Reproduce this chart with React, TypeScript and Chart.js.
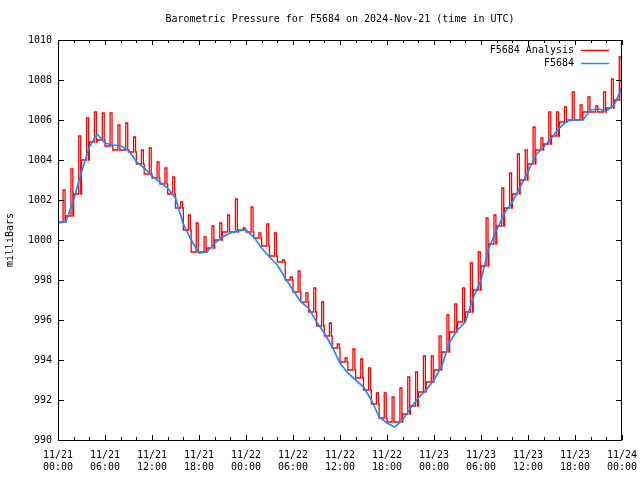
import { useEffect, useRef } from 'react';
import { Chart, registerables } from 'chart.js';
Chart.register(...registerables);

const TITLE = 'Barometric Pressure for F5684 on 2024-Nov-21 (time in UTC)';
const Y_TITLE = 'milliBars';
const SERIES_NAMES = ['F5684 Analysis', 'F5684'];

// hourly observations (hour 0 = 11/21 00:00 UTC)
const stationHours = [
  0, 1, 2, 3, 4, 5, 6, 7, 8, 9, 10, 11, 12, 13, 14, 15, 16, 17, 18, 19, 20, 21, 22, 23,
  24, 25, 26, 27, 28, 29, 30, 31, 32, 33, 34, 35, 36, 37, 38, 39, 40, 41, 42, 43, 44, 45, 46, 47,
  48, 49, 50, 51, 52, 53, 54, 55, 56, 57, 58, 59, 60, 61, 62, 63, 64, 65, 66, 67, 68, 69, 70, 71, 72,
];
const stationPressure = [
  1000.85, 1000.9, 1002.0, 1003.4, 1004.65, 1005.3, 1004.85, 1004.75, 1004.7, 1004.5, 1003.9, 1003.6,
  1003.2, 1002.9, 1002.6, 1002.1, 1000.8, 1000.0, 999.35, 999.4, 999.85, 1000.15, 1000.35, 1000.45,
  1000.5, 1000.15, 999.6, 999.15, 998.75, 998.1, 997.5, 996.9, 996.6, 995.9, 995.35, 994.65,
  993.85, 993.35, 993.0, 992.65, 992.0, 991.15, 990.85, 990.65, 991.0, 991.6, 992.1, 992.5,
  993.0, 993.7, 994.9, 995.5, 995.9, 997.1, 998.0, 999.6, 1000.5, 1001.35, 1001.9, 1002.65,
  1003.4, 1004.25, 1004.65, 1005.1, 1005.6, 1005.95, 1006.0, 1006.0, 1006.5, 1006.55, 1006.45, 1006.75,
  1007.65,
];

// analysis: level at the start of each hour, and the short peak late in the hour
const analysisBase = [
  1000.9, 1001.2, 1002.3, 1004.0, 1004.9, 1005.0, 1004.7, 1004.5, 1004.5, 1004.4, 1003.8, 1003.3,
  1003.1, 1002.8, 1002.3, 1001.6, 1000.5, 999.4, 999.4, 999.6, 1000.0, 1000.4, 1000.4, 1000.5,
  1000.4, 1000.1, 999.7, 999.2, 998.9, 998.0, 997.4, 996.9, 996.4, 995.7, 995.2, 994.6,
  993.9, 993.5, 993.1, 992.5, 991.8, 991.1, 990.9, 990.9, 991.3, 991.7, 992.4, 992.9,
  993.5, 994.4, 995.4, 995.9, 996.4, 997.5, 998.7, 999.8, 1000.7, 1001.6, 1002.3, 1003.0,
  1003.8, 1004.5, 1004.8, 1005.2, 1005.9, 1006.0, 1006.0, 1006.4, 1006.4, 1006.4, 1006.6, 1007.0,
];
const analysisPeak = [
  1002.5, 1003.55, 1005.2, 1006.1, 1006.4, 1006.35, 1006.35, 1005.75, 1005.85, 1005.15, 1004.5, 1004.6,
  1003.9, 1003.6, 1003.15, 1001.9, 1001.25, 1000.85, 1000.15, 1000.7, 1000.85, 1001.25, 1002.05, 1000.6,
  1001.65, 1000.35, 1000.8, 1000.35, 999.0, 998.15, 998.45, 997.35, 997.6, 996.9, 995.85, 994.8,
  994.1, 994.55, 994.05, 993.6, 992.35, 992.35, 992.15, 992.6, 993.15, 993.4, 994.2, 994.2,
  995.2, 996.25, 996.8, 997.6, 998.85, 999.4, 1001.1, 1001.25, 1002.6, 1003.35, 1004.3, 1004.5,
  1005.65, 1005.1, 1006.4, 1006.4, 1006.65, 1007.4, 1006.75, 1007.15, 1006.7, 1007.4, 1008.05, 1009.15,
];
const analysisFinal = 1008.7;
const PEAK_START = 0.65;
const PEAK_END = 0.9;

const xTickHours = [0, 6, 12, 18, 24, 30, 36, 42, 48, 54, 60, 66, 72];
const xTickDates = ['11/21', '11/21', '11/21', '11/21', '11/22', '11/22', '11/22', '11/22', '11/23', '11/23', '11/23', '11/23', '11/24'];
const xTickTimes = ['00:00', '06:00', '12:00', '18:00', '00:00', '06:00', '12:00', '18:00', '00:00', '06:00', '12:00', '18:00', '00:00'];
const yTickValues = [990, 992, 994, 996, 998, 1000, 1002, 1004, 1006, 1008, 1010];

const RED = '#ff0000';
const BLUE = '#1a8cff';
const FONT = '"DejaVu Sans Mono", monospace';

export default function App() {
  const ref = useRef<HTMLCanvasElement | null>(null);
  useEffect(() => {
    if (!ref.current) return;
    const stationData = stationHours.map((h, i) => ({ x: h, y: stationPressure[i] }));
    const analysisData: { x: number; y: number }[] = [];
    analysisBase.forEach((b, n) => {
      analysisData.push({ x: n, y: b });
      analysisData.push({ x: n + PEAK_START, y: analysisPeak[n] });
      analysisData.push({ x: n + PEAK_END, y: b });
    });
    analysisData.push({ x: 72, y: analysisFinal });

    const framePlugin = {
      id: 'frame',
      afterDraw(chart: any) {
        const ctx = chart.ctx;
        const { left, right, top, bottom } = chart.chartArea;
        const xs = chart.scales.x;
        const ys = chart.scales.y;
        ctx.save();
        ctx.strokeStyle = '#000';
        ctx.lineWidth = 1;
        ctx.beginPath();
        ctx.rect(Math.round(left) + 0.5, Math.round(top) + 0.5, Math.round(right - left) - 1, Math.round(bottom - top));
        for (const v of yTickValues) {
          const py = Math.round(ys.getPixelForValue(v)) + 0.5;
          ctx.moveTo(left, py); ctx.lineTo(left + 6, py);
          ctx.moveTo(right - 6, py); ctx.lineTo(right, py);
        }
        for (let h = 0; h <= 72; h += 2) {
          const px = Math.round(xs.getPixelForValue(h)) + 0.5;
          const len = h % 6 === 0 ? 5 : 3;
          ctx.moveTo(px, bottom); ctx.lineTo(px, bottom - len);
          ctx.moveTo(px, top); ctx.lineTo(px, top + len);
        }
        ctx.stroke();
        // title
        ctx.fillStyle = '#000';
        ctx.font = `10px ${FONT}`;
        ctx.textAlign = 'center';
        ctx.textBaseline = 'middle';
        ctx.fillText(TITLE, (left + right) / 2, 19);
        // legend
        ctx.textAlign = 'right';
        const rows = [
          { label: SERIES_NAMES[0], color: RED },
          { label: SERIES_NAMES[1], color: BLUE },
        ];
        rows.forEach((r, i) => {
          const yy = 50 + i * 13;
          ctx.fillStyle = '#000';
          ctx.fillText(r.label, 574, yy);
          ctx.strokeStyle = r.color;
          ctx.lineWidth = 1.5;
          ctx.beginPath();
          ctx.moveTo(581, yy + 0.5);
          ctx.lineTo(609, yy + 0.5);
          ctx.stroke();
        });
        ctx.restore();
      },
    };

    const chart = new Chart(ref.current, {
      type: 'line',
      data: {
        datasets: [
          {
            label: SERIES_NAMES[1],
            data: stationData,
            borderColor: BLUE,
            borderWidth: 1.7,
            pointRadius: 0,
            tension: 0,
            order: 0,
          },
          {
            label: SERIES_NAMES[0],
            data: analysisData,
            borderColor: RED,
            borderWidth: 1.3,
            pointRadius: 0,
            stepped: 'before',
            order: 1,
          },
        ],
      },
      options: {
        animation: false,
        responsive: false,
        parsing: false as any,
        layout: { padding: { left: 0, top: 40, right: 18, bottom: 0 } },
        plugins: { legend: { display: false }, tooltip: { enabled: false }, title: { display: false } },
        scales: {
          x: {
            type: 'linear',
            min: 0,
            max: 72,
            grid: { display: false, drawTicks: false },
            border: { display: false },
            afterBuildTicks: (s: any) => { s.ticks = xTickHours.map((v) => ({ value: v })); },
            afterFit: (s: any) => { s.height = 40; s.paddingLeft = 0; s.paddingRight = 0; },
            ticks: {
              autoSkip: false,
              maxRotation: 0,
              minRotation: 0,
              padding: 9,
              color: '#000',
              font: { family: FONT, size: 10, lineHeight: 1.2 },
              callback: (v: any) => {
                const i = xTickHours.indexOf(Number(v));
                return i >= 0 ? [xTickDates[i], xTickTimes[i]] : '';
              },
            },
          },
          y: {
            type: 'linear',
            min: 990,
            max: 1010,
            grid: { display: false, drawTicks: false },
            border: { display: false },
            afterBuildTicks: (s: any) => { s.ticks = yTickValues.map((v) => ({ value: v })); },
            afterFit: (s: any) => { s.width = 58; s.paddingTop = 0; s.paddingBottom = 0; },
            title: { display: true, text: Y_TITLE, color: '#000', font: { family: FONT, size: 10 }, padding: { top: 4, bottom: 0 } },
            ticks: {
              padding: 6,
              color: '#000',
              font: { family: FONT, size: 10 },
              callback: (v: any) => String(v),
            },
          },
        },
      },
      plugins: [framePlugin],
    });
    return () => chart.destroy();
  }, []);
  return (
    <div style={{ position: 'fixed', left: 0, top: 0, width: 640, height: 480, background: '#fff' }}>
      <canvas ref={ref} width={640} height={480} style={{ display: 'block' }} />
    </div>
  );
}
